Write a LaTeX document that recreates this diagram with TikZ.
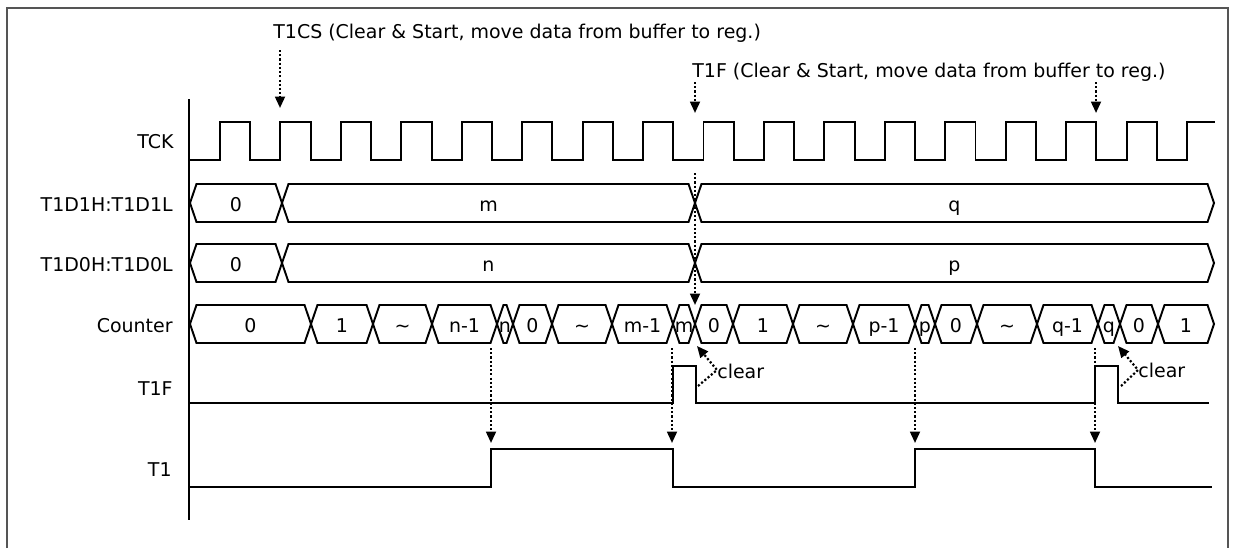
\documentclass[tikz,border=0pt]{standalone}
\usepackage{fontspec}
\setmainfont{DejaVu Sans}
\usetikzlibrary{arrows.meta, calc}
\definecolor{inkc}{RGB}{0,0,0}
\definecolor{framec}{RGB}{85,85,85}
\newcommand{\sigfont}{\fontsize{10.8}{12.8}\selectfont}
\tikzset{
  wave/.style={draw=inkc, line width=1.1pt, line join=miter},
  axis/.style={draw=inkc, line width=1.1pt},
  frame/.style={draw=framec, line width=0.9pt},
  sig/.style={anchor=base east, font=\sigfont, text=inkc, inner sep=0pt},
  val/.style={anchor=base, font=\sigfont, text=inkc, inner sep=0pt},
  note/.style={anchor=base west, font=\sigfont, text=inkc, inner sep=0pt},
  darr/.style={-{Triangle[length=6.5pt, width=5.6pt]}, line width=1.25pt,
               dash pattern=on 1.2pt off 1.2pt, draw=inkc},
}
% one value of a bus: name, from x, to x, row centre y, text
\newcommand{\busseg}[5]{%
  \draw[wave] (#2,#4) -- (#2+6.5,#4-19) -- (#3-6.5,#4-19) -- (#3,#4)
    -- (#3-6.5,#4+19) -- (#2+6.5,#4+19) -- cycle;
  \node[val] (#1) at ({(#2+#3)/2},#4+8) {#5};}

\begin{document}
\begin{tikzpicture}[x=0.02cm, y=-0.02cm]
  \useasboundingbox (0,0) rectangle (1236,548);

  \draw[frame] (7,548) -- (7,8) -- (1228,8) -- (1228,548);
  \draw[axis] (189,99) -- (189,520);

  % signal names
  \node[sig] (tck) at (174,148) {TCK};
  \node[sig] (dhi) at (173,211) {T1D1H:T1D1L};
  \node[sig] (dlo) at (173,271) {T1D0H:T1D0L};
  \node[sig] (cnt) at (173,332) {Counter};
  \node[sig] (flag) at (173,395) {T1F};
  \node[sig] (tone) at (172,476) {T1};

  % clock
  \draw[wave] (190,160) \foreach \k in {0,...,15}{
      -- ({220+60.44*\k},160) -- ++(0,-38) -- ++(30.22,0) -- ++(0,38) }
    -- (1187,160) -- (1187,122) -- (1215,122);

  % data registers
  \busseg{dhi0}{190}{282}{203}{0}
  \busseg{dhim}{282}{695}{203}{m}
  \busseg{dhiq}{695}{1214}{203}{q}
  \busseg{dlo0}{190}{282}{263}{0}
  \busseg{dlon}{282}{695}{263}{n}
  \busseg{dlop}{695}{1214}{263}{p}

  % counter
  \foreach \a/\b/\t [count=\i] in {190/311/0, 311/373/1, 373/432/\textasciitilde,
      432/497/n-1, 497/513/n, 513/552/0, 552/612/\textasciitilde, 612/673/m-1,
      673/695/m, 695/733/0, 733/793/1, 793/853/\textasciitilde, 853/915/p-1,
      915/935/p, 935/977/0, 977/1037/\textasciitilde, 1037/1098/q-1,
      1098/1120/q, 1120/1158/0, 1158/1214/1}
    {\busseg{cnt\i}{\a}{\b}{324}{\t}}

  % flag and output
  \draw[wave] (190,403) -- (673,403) -- (673,366) -- (696,366) -- (696,403)
    -- (1095,403) -- (1095,366) -- (1118,366) -- (1118,403) -- (1209,403);
  \draw[wave] (190,487) -- (491,487) -- (491,449) -- (673,449) -- (673,487)
    -- (915,487) -- (915,449) -- (1095,449) -- (1095,487) -- (1212,487);

  % notes
  \node[note] (cs) at (273,38) {T1CS (Clear \& Start, move data from buffer to reg.)};
  \node[note] (fl) at (692,77) {T1F (Clear \& Start, move data from buffer to reg.)};
  \node[note] (clr1) at (717,378) {clear};
  \node[note] (clr2) at (1138,377) {clear};

  % arrow ends
  \coordinate (cs a) at (280,50);   \coordinate (cs b) at (280,108);
  \coordinate (fl a) at (695,82);   \coordinate (fl b) at (695,113);
  \coordinate (fl c) at (695,173);  \coordinate (fl d) at (695,305);
  \coordinate (ck a) at (1096,82);  \coordinate (ck b) at (1096,113);
  \coordinate (t1 a) at (491,348);  \coordinate (t1 b) at (491,443);
  \coordinate (t2 a) at (672,348);  \coordinate (t2 b) at (672,443);
  \coordinate (t3 a) at (915,348);  \coordinate (t3 b) at (915,443);
  \coordinate (t4 a) at (1095,348); \coordinate (t4 b) at (1095,443);

  \draw[darr] (cs a) -- (cs b);
  \draw[darr] (fl a) -- (fl b);
  \draw[darr] (fl c) -- (fl d);
  \draw[darr] (ck a) -- (ck b);
  \draw[darr] (t1 a) -- (t1 b);
  \draw[darr] (t2 a) -- (t2 b);
  \draw[darr] (t3 a) -- (t3 b);
  \draw[darr] (t4 a) -- (t4 b);
  \draw[darr] (698,386) -- (clr1.west |- 0,370) -- (697,346);
  \draw[darr] (1121,386) -- (clr2.west |- 0,370) -- (1118,346);
\end{tikzpicture}
\end{document}
